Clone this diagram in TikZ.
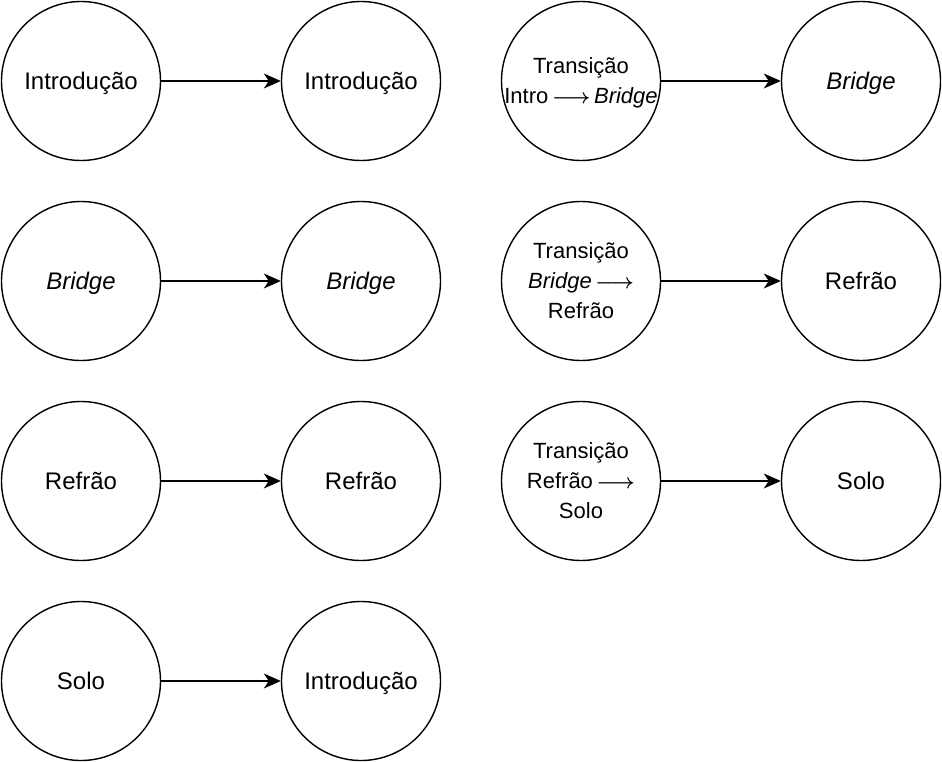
\documentclass[tikz,border=0pt]{standalone}
\usepackage{fontspec}
\setmainfont{Liberation Sans}
\usetikzlibrary{arrows.meta}
\begin{document}
\begin{tikzpicture}[x=1pt, y=-1pt,
    state/.style={circle, draw, line width=1.4pt, minimum size=159pt, inner sep=0pt,
        text depth=0pt, font=\fontsize{24}{28}\selectfont},
    trans/.style={state, align=center, font=\fontsize{22}{30}\selectfont},
    flow/.style={line width=1.4pt, -{Stealth[length=17pt, width=15pt, inset=5pt]}}]
    \useasboundingbox (0,0) rectangle (942,762);
    \def\to{{\boldmath$\longrightarrow$}}
    \def\row#1{\makebox[100pt][c]{#1}}
    % left column: section repeats or moves on
    \node[state] (intro1) at (81,81) {Introdução};
    \node[state] (intro2) at (361,81) {Introdução};
    \node[state] (bridge1) at (81,281) {\itshape Bridge};
    \node[state] (bridge2) at (361,281) {\itshape Bridge};
    \node[state] (refrao1) at (81,481) {Refrão};
    \node[state] (refrao2) at (361,481) {Refrão};
    \node[state] (solo1) at (81,681) {Solo};
    \node[state] (intro3) at (361,681) {Introdução};
    % right column: transitions
    \node[trans] (transA) at (581,81) {Transição\\\row{Intro\,\to\,\textit{Bridge}}};
    \node[state] (bridge3) at (861,81) {\itshape Bridge};
    \node[trans] (transB) at (581,281) {Transição\\\row{\textit{Bridge}\,\to}\\Refrão};
    \node[state] (refrao3) at (861,281) {Refrão};
    \node[trans] (transC) at (581,481) {Transição\\\row{Refrão\,\to}\\Solo};
    \node[state] (solo2) at (861,481) {Solo};
    \foreach \a/\b in {intro1/intro2, bridge1/bridge2, refrao1/refrao2, solo1/intro3,
        transA/bridge3, transB/refrao3, transC/solo2}
        \draw[flow] (\a) -- (\b);
\end{tikzpicture}
\end{document}
